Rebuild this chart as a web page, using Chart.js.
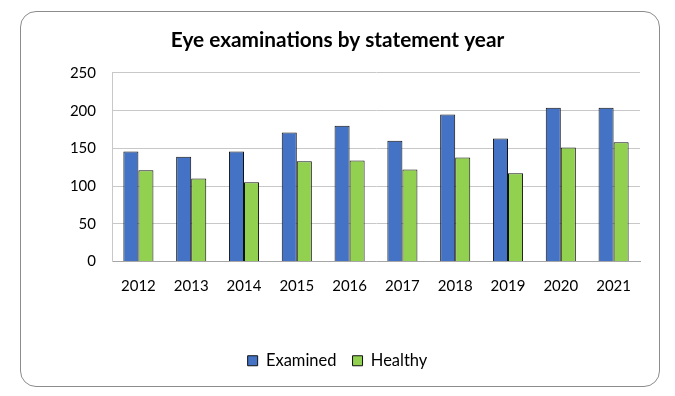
<!DOCTYPE html>
<html>
<head>
<meta charset="utf-8">
<script src="https://cdn.jsdelivr.net/npm/chart.js@4"></script>
<style>
  body { margin: 0; background: #fff; }
  #wrap { position: relative; width: 675px; height: 396px; }
  #frame {
    position: absolute; left: 20px; top: 11px; width: 638px; height: 374px;
    border: 1px solid #8c8c8c; border-radius: 16px; background: #fff;
  }
  #myChart { position: absolute; left: 0; top: 0; }
</style>
</head>
<body>
<div id="wrap">
  <div id="frame"></div>
  <canvas id="myChart" width="675" height="396"></canvas>
</div>
<script>
// values
var years = ['2012', '2013', '2014', '2015', '2016', '2017', '2018', '2019', '2020', '2021'];
var examined = [146, 139, 146, 171, 180, 160, 195, 163, 204, 204];
var healthy = [121, 110, 105, 133, 134, 122, 138, 117, 151, 158];
var yTicks = [0, 50, 100, 150, 200, 250];

window.onload = function () {
  const ctx = document.getElementById('myChart');
  const font = "Lato";
  new Chart(ctx, {
    type: 'bar',
    data: {
      labels: years,
      datasets: [{
        label: 'Examined',
        data: examined,
        backgroundColor: '#4472C4',
        borderColor: '#111',
        borderWidth: 1
      }, {
        label: 'Healthy',
        data: healthy,
        backgroundColor: '#92D050',
        borderColor: '#111',
        borderWidth: 1
      }]
    },
    options: {
      responsive: false,
      animation: false,
      devicePixelRatio: 1,
      layout: { padding: { left: 35, right: 35, top: 22, bottom: 17 } },
      datasets: {
        bar: { categoryPercentage: 0.57, barPercentage: 1 }
      },
      plugins: {
        title: {
          display: true,
          text: 'Eye examinations by statement year',
          color: '#000',
          font: { family: font, size: 20.8, weight: 'bold' },
          padding: { top: 6, bottom: 20 }
        },
        legend: {
          position: 'bottom',
          labels: {
            color: '#000',
            font: { family: font, size: 16.5 },
            boxWidth: 10,
            boxHeight: 10,
            padding: 16
          }
        },
        tooltip: { enabled: false }
      },
      scales: {
        x: {
          // extra room between the year labels and the legend
          afterFit: function (scale) { scale.height += 25; },
          grid: { display: false, drawTicks: false },
          border: { color: '#a6a6a6' },
          ticks: { color: '#000', font: { family: font, size: 15 }, padding: 16 }
        },
        y: {
          min: 0,
          max: 250,
          afterFit: function (scale) { scale.width = 77; },
          afterBuildTicks: function (scale) {
            scale.ticks = yTicks.map(function (v) { return { value: v }; });
          },
          grid: { color: '#c8c8c8', drawTicks: false },
          border: { color: '#c8c8c8' },
          ticks: { color: '#000', font: { family: font, size: 15 }, padding: 16 }
        }
      }
    }
  });
};
</script>
</body>
</html>
